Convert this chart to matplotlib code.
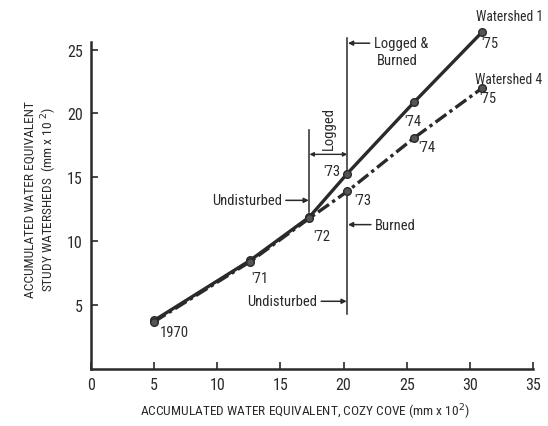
import matplotlib
matplotlib.use("Agg")
import matplotlib.pyplot as plt
from matplotlib import font_manager

# accumulated water equivalent (mm x 10^2)
years = ["1970", "'71", "'72", "'73", "'74", "'75"]
cozy_cove = [5.0, 12.6, 17.3, 20.3, 25.6, 31.0]
watershed_1 = [3.8, 8.5, 11.9, 15.3, 20.9, 26.4]
watershed_4 = [3.7, 8.4, 11.8, 13.9, 18.1, 22.0]

x_ticks = [0, 5, 10, 15, 20, 25, 30, 35]
y_ticks = [5, 10, 15, 20, 25]

names = {f.name for f in font_manager.fontManager.ttflist}
family = "DejaVu Sans"
for cand in ["Liberation Sans Narrow", "Roboto Condensed", "Open Sans Condensed", "Roboto"]:
    if cand in names:
        family = cand
        break
plt.rcParams["font.family"] = [family, "DejaVu Sans"]

ink = "#2a2a2a"
fig = plt.figure(figsize=(5.48, 4.27), dpi=100)
ax = fig.add_axes([0.166, 0.1335, 0.8066, 0.766])

ax.plot(cozy_cove, watershed_1, color=ink, lw=2.4, marker="o", ms=5.5,
        mfc="#555555", mec=ink, clip_on=False, zorder=3)
ax.plot(cozy_cove, watershed_4, color=ink, lw=2.4, ls=(0, (4, 1.2, 1, 1.2)),
        marker="o", ms=5.5, mfc="#555555", mec=ink, clip_on=False, zorder=3)

ax.set_xlim(0, 35)
ax.set_ylim(0, 25.6)
ax.set_xticks(x_ticks)
ax.set_yticks(y_ticks)
ax.tick_params(direction="in", length=5, width=1.2, colors=ink, labelsize=11.5, pad=6)
for side in ["top", "right"]:
    ax.spines[side].set_visible(False)
for side in ["left", "bottom"]:
    ax.spines[side].set_linewidth(1.8)
    ax.spines[side].set_color(ink)

ax.set_xlabel("ACCUMULATED WATER EQUIVALENT, COZY COVE (mm x 10$^2$)", fontsize=9.6,
              color=ink)
ax.set_ylabel("ACCUMULATED WATER EQUIVALENT\nSTUDY WATERSHEDS  (mm x 10 $^2$)", fontsize=9.6,
              color=ink)
ax.xaxis.set_label_coords(0.484, -0.098)
ax.yaxis.set_label_coords(-0.072, 0.52)

# treatment boundaries
x_log, x_burn = cozy_cove[2], cozy_cove[3]
ax.plot([x_log, x_log], [18.7, 12.3], color=ink, lw=1.1, clip_on=False)
ax.plot([x_burn, x_burn], [25.9, watershed_1[3]], color=ink, lw=1.1, clip_on=False)
ax.plot([x_burn, x_burn], [watershed_4[3], 4.3], color=ink, lw=1.1, clip_on=False)

arrow = dict(arrowstyle="-|>", color=ink, lw=1.1, mutation_scale=7, shrinkA=1, shrinkB=0)
txt = dict(fontsize=10.5, color=ink)
ax.annotate("", xy=(x_log, 16.8), xytext=(x_burn, 16.8),
            arrowprops=dict(arrowstyle="<|-|>", color=ink, lw=1.0, mutation_scale=6,
                            shrinkA=0, shrinkB=0))
ax.text(18.85, 18.9, "Logged", rotation=90, ha="center", va="center", **txt)
ax.annotate("Undisturbed", xy=(x_log - 0.05, 13.2), xytext=(15.1, 13.2),
            ha="right", va="center", arrowprops=arrow, **txt)
ax.annotate("Undisturbed", xy=(x_burn - 0.05, 5.3), xytext=(17.9, 5.3),
            ha="right", va="center", arrowprops=arrow, **txt)
ax.annotate("Burned", xy=(x_burn + 0.05, 11.3), xytext=(22.5, 11.3),
            ha="left", va="center", arrowprops=arrow, **txt)
ax.annotate("Logged &", xy=(x_burn + 0.05, 25.5), xytext=(22.4, 25.5),
            ha="left", va="center", arrowprops=arrow, annotation_clip=False, **txt)
ax.text(22.6, 24.2, "Burned", ha="left", va="center", **txt)

# year labels
ax.text(6.6, 2.9, years[0], ha="center", va="center", **txt)
ax.text(13.4, 7.1, years[1], ha="center", va="center", **txt)
ax.text(18.3, 10.4, years[2], ha="center", va="center", **txt)
ax.text(19.1, 15.5, years[3], ha="center", va="center", **txt)
ax.text(21.5, 13.2, years[3], ha="center", va="center", **txt)
ax.text(25.5, 19.4, years[4], ha="center", va="center", **txt)
ax.text(26.6, 17.4, years[4], ha="center", va="center", **txt)
ax.text(31.6, 25.5, years[5], ha="center", va="center", **txt)
ax.text(31.4, 21.2, years[5], ha="center", va="center", **txt)
ax.text(30.5, 27.6, "Watershed 1", ha="left", va="center", clip_on=False,
        fontsize=9.8, color=ink)
ax.text(30.4, 22.7, "Watershed 4", ha="left", va="center", fontsize=9.8, color=ink)

fig.savefig("out.png", dpi=100)
